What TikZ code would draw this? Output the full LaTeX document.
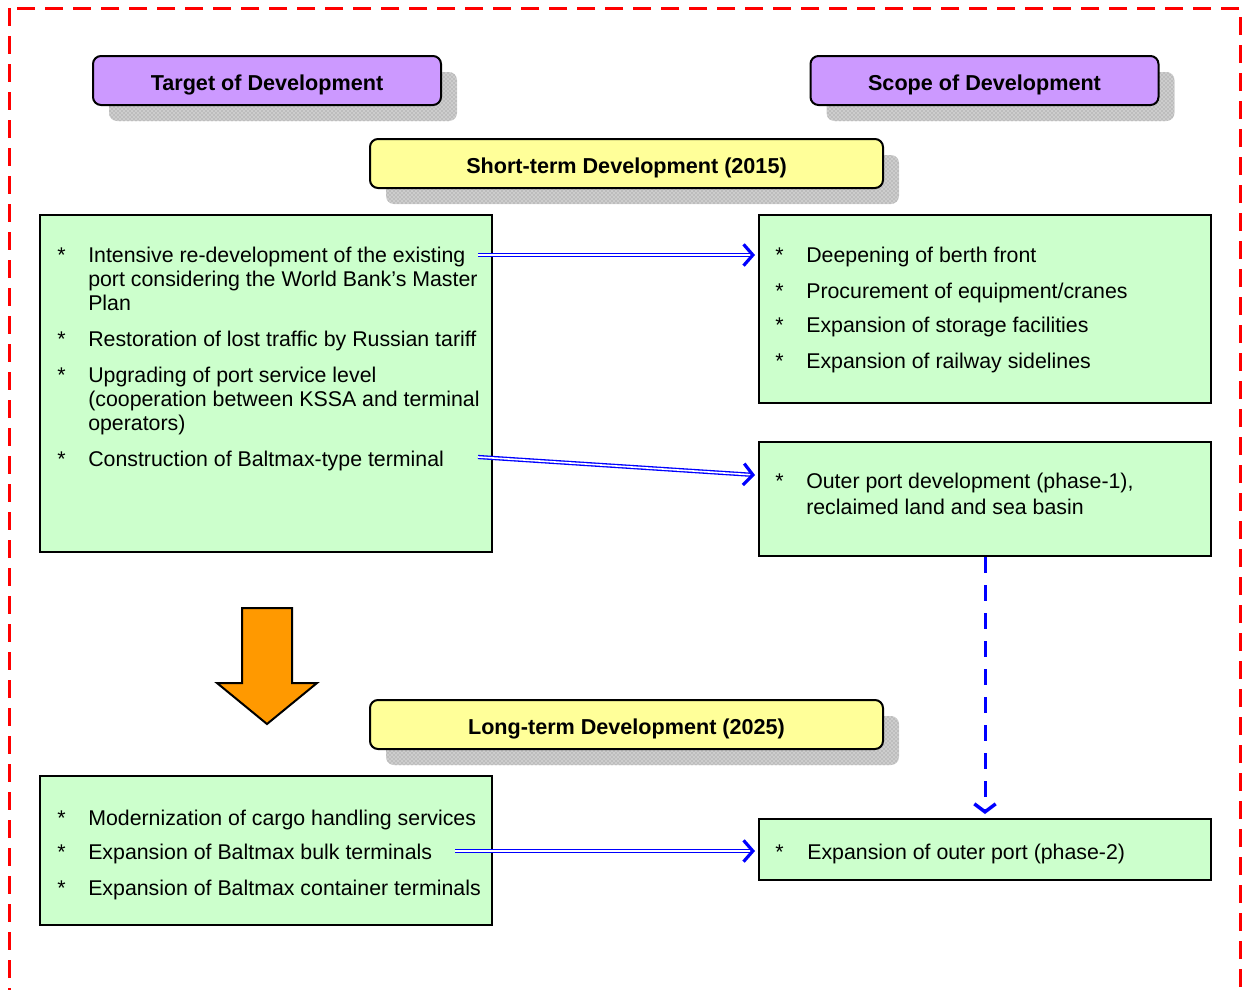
\documentclass[tikz,border=0pt]{standalone}
\usepackage{fontspec}
\setmainfont{Liberation Sans}
\usetikzlibrary{arrows.meta,calc,shadows,patterns}
\definecolor{purp}{RGB}{204,153,255}
\definecolor{yel}{RGB}{255,255,153}
\definecolor{grn}{RGB}{204,255,204}
\definecolor{org}{RGB}{255,153,0}
\definecolor{shd}{RGB}{205,205,205}
\definecolor{shdpat}{RGB}{140,140,140}
\definecolor{arrblue}{RGB}{0,0,255}
\begin{document}
\begin{tikzpicture}[x=0.75pt,y=-0.75pt,
  title/.style={draw=black, line width=1.5pt, rounded corners=6pt, inner sep=0pt,
    minimum height=36.75pt, text height=15.3pt, text depth=0pt,
    font=\fontsize{16.2}{18}\selectfont\bfseries,
    general shadow={fill=shd, shadow xshift=12pt, shadow yshift=-12pt,
      postaction={pattern=crosshatch dots, pattern color=shdpat}}},
  purpbox/.style={title, fill=purp, minimum width=261pt},
  yelbox/.style={title, fill=yel, minimum width=384.75pt},
  grnbox/.style={draw=black, line width=1.5pt, fill=grn, inner sep=0pt, minimum width=339pt},
  txt/.style={anchor=base west, inner sep=0pt, font=\fontsize{16}{18}\selectfont},
  dbl/.style={draw=arrblue, line width=1pt, double=white, double distance=1.2pt, shorten >=2pt},
  tipst/.style={draw=arrblue, line width=2.25pt, -{Straight Barb[length=7pt, width=16pt, line width=2.4pt]}},
  dsh/.style={draw=arrblue, line width=2.25pt, dash pattern=on 12pt off 9pt,
    -{Straight Barb[length=6pt, width=16pt, line width=2.6pt]}}
]
\useasboundingbox (0,0) rectangle (1242,989);
\draw[red, line width=2.25pt, dash pattern=on 13.5pt off 7.5pt] (9,8) rectangle (1240,1030);

% title boxes
\node[purpbox] (tgt) at (267,80.5) {Target of Development};
\node[purpbox] (scp) at (984.5,80.5) {Scope of Development};
\node[yelbox] (st) at (626.5,163.5) {Short-term Development (2015)};
\node[yelbox] (lt) at (626.5,724.5) {Long-term Development (2025)};

% green boxes
\node[grnbox, minimum height=252.75pt] (L1) at (266,383.5) {};
\node[grnbox, minimum height=141pt] (R1) at (985,309) {};
\node[grnbox, minimum height=85.5pt] (R2) at (985,499) {};
\node[grnbox, minimum height=111.75pt] (L2) at (266,850.5) {};
\node[grnbox, minimum height=45.75pt] (R3) at (985,849.5) {};

% left box 1 text
\node[txt] (b1) at (57,262.5) {*};
\node[txt] (t1a) at (88,262.5) {Intensive re-development of the existing};
\node[txt] (t1b) at (88,286.5) {port considering the World Bank’s Master};
\node[txt] (t1c) at (88,310.5) {Plan};
\node[txt] (b2) at (57,346.5) {*};
\node[txt] (t2a) at (88,346.5) {Restoration of lost traffic by Russian tariff};
\node[txt] (b3) at (57,382.5) {*};
\node[txt] (t3a) at (88,382.5) {Upgrading of port service level};
\node[txt] (t3b) at (88,406.5) {(cooperation between KSSA and terminal};
\node[txt] (t3c) at (88,430.5) {operators)};
\node[txt] (b4) at (57,466.5) {*};
\node[txt] (t4a) at (88,466.5) {Construction of Baltmax-type terminal};

% right box 1 text
\node[txt] (rb1) at (775,262.5) {*};
\node[txt] (r1) at (806,262.5) {Deepening of berth front};
\node[txt] (rb2) at (775,298.5) {*};
\node[txt] (r2) at (806,298.5) {Procurement of equipment/cranes};
\node[txt] (rb3) at (775,332.5) {*};
\node[txt] (r3) at (806,332.5) {Expansion of storage facilities};
\node[txt] (rb4) at (775,368.5) {*};
\node[txt] (r4) at (806,368.5) {Expansion of railway sidelines};

% right box 2 text
\node[txt] (rb5) at (775,488.5) {*};
\node[txt] (r5a) at (806,488.5) {Outer port development (phase-1),};
\node[txt] (r5b) at (806,514.5) {reclaimed land and sea basin};

% left box 2 text
\node[txt] (lb1) at (57,825.5) {*};
\node[txt] (l1) at (88,825.5) {Modernization of cargo handling services};
\node[txt] (lb2) at (57,859.5) {*};
\node[txt] (l2) at (88,859.5) {Expansion of Baltmax bulk terminals};
\node[txt] (lb3) at (57,895.5) {*};
\node[txt] (l3) at (88,895.5) {Expansion of Baltmax container terminals};

% right box 3 text
\node[txt] (rb6) at (775,859.5) {*};
\node[txt] (r6) at (807,859.5) {Expansion of outer port (phase-2)};

% orange arrow
\draw[fill=org, line width=1.5pt, line join=miter] (242,608) -- (292,608) -- (292,683) -- (317,683)
  -- (267,724) -- (217,683) -- (242,683) -- cycle;

% connectors
\coordinate (s1) at (478,255);
\coordinate (e1) at ($(R1.west |- s1)+(-3,0)$);
\draw[dbl] (s1) -- (e1);
\draw[tipst] ($(e1)!0.015!(s1)$) -- (e1);

\coordinate (s2) at (478,457);
\coordinate (e2) at ($(R2.north west)+(-3,34)$);
\draw[dbl] (s2) -- (e2);
\draw[tipst] ($(e2)!0.015!(s2)$) -- (e2);

\coordinate (s3) at (455,851);
\coordinate (e3) at ($(R3.west |- s3)+(-3,0)$);
\draw[dbl] (s3) -- (e3);
\draw[tipst] ($(e3)!0.015!(s3)$) -- (e3);

\draw[dsh] (R2.south) -- ($(R3.north)+(0,-4)$);
\end{tikzpicture}
\end{document}
